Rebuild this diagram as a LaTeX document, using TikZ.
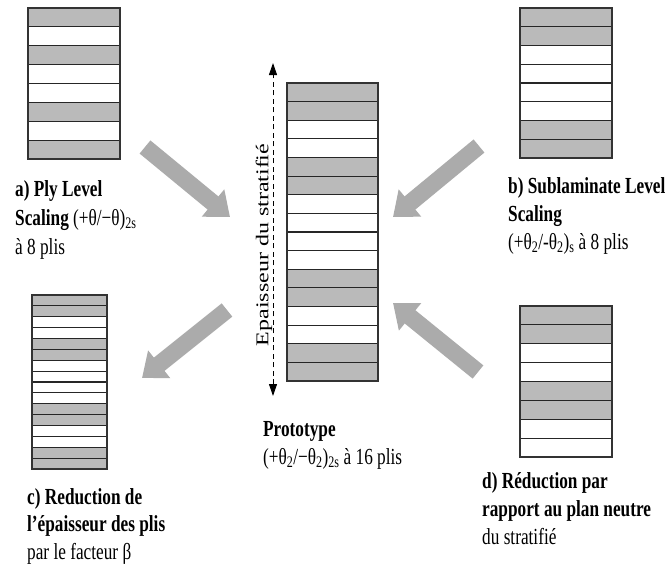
\documentclass[tikz,border=0pt]{standalone}
\usepackage{fontspec}
\setmainfont{Liberation Serif}
\usepackage{graphicx}
\usetikzlibrary{arrows.meta,calc}
\colorlet{plyG}{black!27}
\colorlet{plyW}{white}
\newcommand{\sq}[1]{\scalebox{0.75}[1]{#1}}
\tikzset{
  plyline/.style={draw=black!85, line width=1.1pt},
  stackframe/.style={draw=black!80, line width=1.2pt, inner sep=0pt, outer sep=0pt, fill=none},
  lbl/.style={anchor=base west, inner sep=0pt, font=\fontsize{23}{28}\selectfont},
  bigarr/.style={line width=17pt, draw=black!33, -{Triangle[length=22pt,width=34pt]}},
  thickness/.style={dashed, dash pattern=on 5pt off 3.5pt, line width=1pt,
    {Triangle[length=12pt,width=8pt]}-{Triangle[length=12pt,width=8pt]}}
}
\newcommand{\plystack}[7]{% #1 name, #2 x, #3 y, #4 w, #5 h, #6 n, #7 pattern
  \pgfmathsetmacro{\plyh}{#5/#6}
  \foreach \p [count=\i from 0] in {#7} {
    \fill[ply\p] (#2,{#3+\i*\plyh}) rectangle ++(#4,\plyh);
    \ifnum\i>0 \draw[plyline] (#2,{#3+\i*\plyh}) -- ++(#4,0);\fi
  }
  \node[stackframe, minimum width=#4pt, minimum height=#5pt, anchor=north west] (#1) at (#2,#3) {};
}
\begin{document}
\begin{tikzpicture}[x=1pt,y=-1pt]
\fill[white] (0,0) rectangle (665,568);
\useasboundingbox (0,0) rectangle (665,568);

% stacks
\plystack{sa}{28}{8}{92}{151}{8}{G,W,G,W,W,G,W,G}
\plystack{sb}{520}{8}{92}{150}{8}{G,G,W,W,W,W,G,G}
\plystack{proto}{287}{83}{91}{298}{16}{G,G,W,W,G,G,W,W,W,W,G,G,W,W,G,G}
\plystack{sc}{32}{295}{75}{174}{16}{G,G,W,W,G,G,W,W,W,W,G,G,W,W,G,G}
\plystack{sd}{520}{306}{92}{151}{8}{G,G,W,W,G,G,W,W}

% thickness arrow
\coordinate (dtop) at (273,63);
\coordinate (dbot) at (273,396);
\draw[thickness] (dbot) -- (dtop);
\node[font=\fontsize{24}{28}\selectfont, rotate=90, inner sep=0pt] (ep) at (264,245)
  {\scalebox{1}[0.75]{Epaisseur du stratifié}};

% big arrows
\coordinate (atail) at (145,147);  \coordinate (atip) at (230,217);
\coordinate (btail) at (479,146);  \coordinate (btip) at (393,217);
\coordinate (ctail) at (227,310);  \coordinate (ctip) at (142,378);
\coordinate (dtail) at (478,372);  \coordinate (dtip) at (393,303);
\draw[bigarr] (atail) -- (atip);
\draw[bigarr] (btail) -- (btip);
\draw[bigarr] (ctail) -- (ctip);
\draw[bigarr] (dtail) -- (dtip);

% labels a)
\node[lbl] (la1) at (15,196) {\sq{\textbf{a) Ply Level}}};
\node[lbl] (la2) at (15,225) {\sq{\textbf{Scaling} (+θ/−θ)\textsubscript{2s}}};
\node[lbl] (la3) at (15,254) {\sq{à 8 plis}};
% labels b)
\node[lbl] (lb1) at (508,193) {\sq{\textbf{b) Sublaminate Level}}};
\node[lbl] (lb2) at (508,221) {\sq{\textbf{Scaling}}};
\node[lbl] (lb3) at (508,249) {\sq{(+θ\textsubscript{2}/-θ\textsubscript{2})\textsubscript{s} à 8 plis}};
% prototype
\node[lbl] (lp1) at (263,436) {\sq{\textbf{Prototype}}};
\node[lbl] (lp2) at (263,464) {\sq{(+θ\textsubscript{2}/−θ\textsubscript{2})\textsubscript{2s} à 16 plis}};
% labels c)
\node[lbl] (lc1) at (27,504) {\sq{\textbf{c) Reduction de}}};
\node[lbl] (lc2) at (27,531) {\sq{\textbf{l’épaisseur des plis}}};
\node[lbl] (lc3) at (27,559) {\sq{par le facteur β}};
% labels d)
\node[lbl] (ld1) at (482,488) {\sq{\textbf{d) Réduction par}}};
\node[lbl] (ld2) at (482,516) {\sq{\textbf{rapport au plan neutre}}};
\node[lbl] (ld3) at (482,544) {\sq{du stratifié}};
\end{tikzpicture}
\end{document}
